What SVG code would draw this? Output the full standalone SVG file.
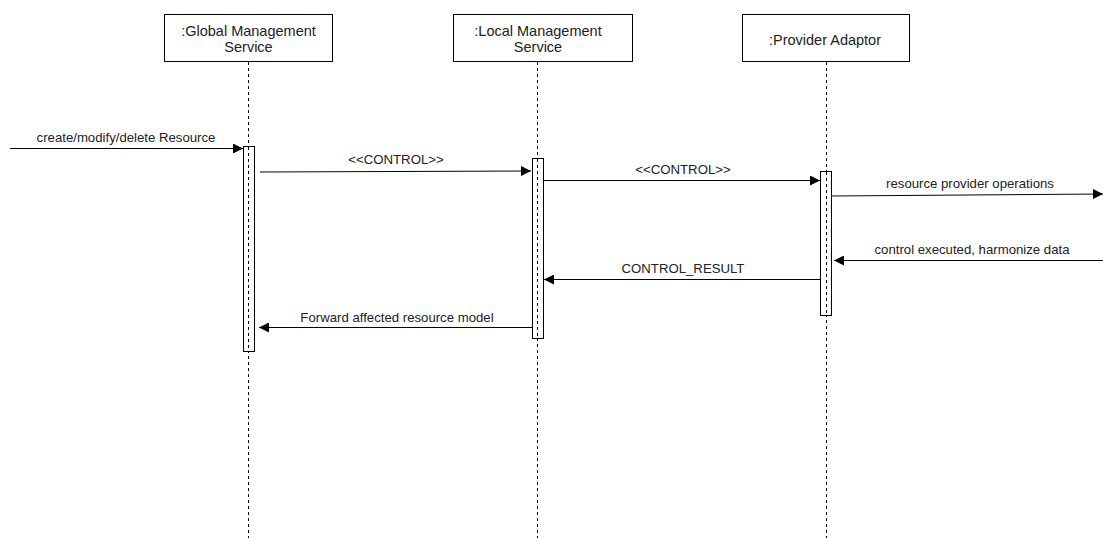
<svg xmlns="http://www.w3.org/2000/svg" width="1103" height="538" viewBox="0 0 1103 538">
  <style>
    .box { fill: #ffffff; stroke: #000000; stroke-width: 1; }
    .life { stroke: #000000; stroke-width: 1; stroke-dasharray: 3 3; fill: none; }
    .act { fill: #ffffff; stroke: #000000; stroke-width: 1; }
    .msg { stroke: #000000; stroke-width: 1; fill: none; marker-end: url(#arrow); }
    .lbl { font-family: "Liberation Sans", Arial, sans-serif; font-size: 13.2px; fill: #222222; text-anchor: middle; }
    .name { font-family: "Liberation Sans", Arial, sans-serif; font-size: 14.5px; fill: #222222; text-anchor: middle; }
  </style>
  <defs>
    <marker id="arrow" viewBox="0 0 10 10" refX="10" refY="5" markerWidth="10" markerHeight="10" markerUnits="userSpaceOnUse" orient="auto">
      <path d="M0,0 L10,5 L0,10 Z" fill="#000000"/>
    </marker>
  </defs>

  <rect width="1103" height="538" fill="#ffffff"/>

  <g id="global-management-service">
    <line class="life" x1="248.5" y1="62" x2="248.5" y2="538"/>
    <rect class="box" x="164.5" y="14.5" width="168" height="47"/>
    <text class="name" x="248.5" y="36">:Global Management</text>
    <text class="name" x="248.5" y="52">Service</text>
    <rect class="act" x="243.5" y="146.5" width="11" height="205"/>
    <line class="life" x1="248.5" y1="147" x2="248.5" y2="351"/>
  </g>

  <g id="local-management-service">
    <line class="life" x1="537.5" y1="62" x2="537.5" y2="538"/>
    <rect class="box" x="453.5" y="14.5" width="179" height="47"/>
    <text class="name" x="538" y="36">:Local Management</text>
    <text class="name" x="538" y="52">Service</text>
    <rect class="act" x="532.5" y="158.5" width="11" height="180"/>
    <line class="life" x1="537.5" y1="159" x2="537.5" y2="338"/>
  </g>

  <g id="provider-adaptor">
    <line class="life" x1="826.5" y1="62" x2="826.5" y2="538"/>
    <rect class="box" x="742.5" y="14.5" width="167" height="47"/>
    <text class="name" x="825" y="45">:Provider Adaptor</text>
    <rect class="act" x="820.5" y="171.5" width="11" height="144"/>
    <line class="life" x1="826.5" y1="172" x2="826.5" y2="315"/>
  </g>

  <g id="connectors">
    <line class="msg" x1="10" y1="148.5" x2="243" y2="148.5"/>
    <text class="lbl" x="126" y="142">create/modify/delete Resource</text>

    <line class="msg" x1="260" y1="172" x2="531" y2="171"/>
    <text class="lbl" x="396" y="164">&lt;&lt;CONTROL&gt;&gt;</text>

    <line class="msg" x1="544" y1="180.5" x2="820" y2="180.5"/>
    <text class="lbl" x="683" y="174">&lt;&lt;CONTROL&gt;&gt;</text>

    <line class="msg" x1="832" y1="196" x2="1103" y2="194"/>
    <text class="lbl" x="970" y="188">resource provider operations</text>

    <line class="msg" x1="1103" y1="260.5" x2="834" y2="260.5"/>
    <text class="lbl" x="972" y="254">control executed, harmonize data</text>

    <line class="msg" x1="820" y1="279.5" x2="544" y2="279.5"/>
    <text class="lbl" x="683" y="273">CONTROL_RESULT</text>

    <line class="msg" x1="532" y1="327.5" x2="259" y2="327.5"/>
    <text class="lbl" x="397" y="322">Forward affected resource model</text>
  </g>
</svg>
